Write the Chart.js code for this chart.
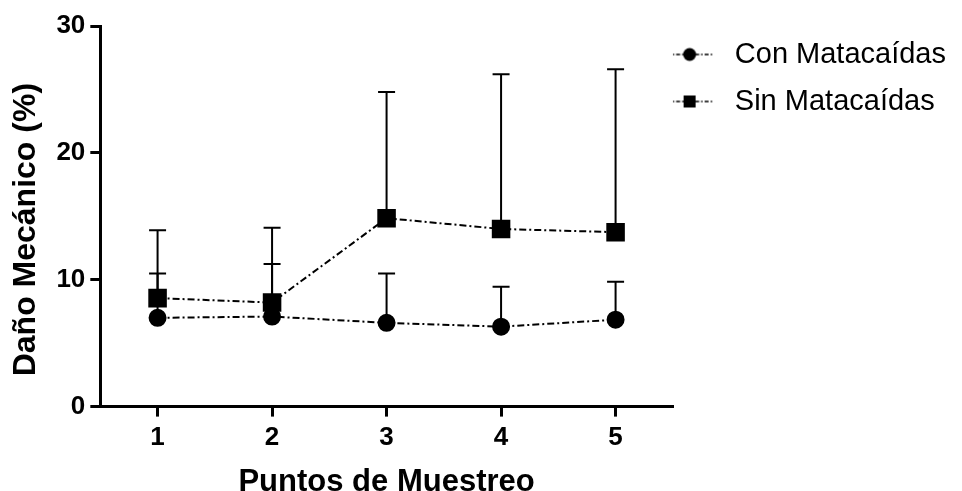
<!DOCTYPE html>
<html>
<head>
<meta charset="utf-8">
<script src="https://cdn.jsdelivr.net/npm/chart.js@4"></script>
<style>
  html, body { margin: 0; padding: 0; background: #fff; }
  #contenedor { width: 962px; height: 491px; }
</style>
</head>
<body>
<div id="contenedor"><canvas id="myChart"></canvas></div>
<script>
// datos
const puntos = ['1', '2', '3', '4', '5'];
const conMedia = [7.0, 7.1, 6.6, 6.3, 6.85];
const conError = [3.5, 4.15, 3.9, 3.15, 3.0];
const sinMedia = [8.55, 8.2, 14.85, 14.0, 13.75];
const sinError = [5.35, 5.9, 9.95, 12.2, 12.85];
const yTicks = [0, 10, 20, 30];

const fuente = "'Liberation Sans', Arial, sans-serif";
const guion = [7, 3, 2, 3];

// simbolo de la leyenda: linea punteada con el marcador en el medio
function simboloLeyenda(tipo){
    const c = document.createElement('canvas');
    c.width = 78;
    c.height = 16;
    const ctx = c.getContext('2d');
    ctx.strokeStyle = '#000';
    ctx.lineWidth = 1.5;
    ctx.setLineDash([4, 2, 1.5, 2]);
    ctx.beginPath();
    ctx.moveTo(0, 8);
    ctx.lineTo(46, 8);
    ctx.stroke();
    ctx.fillStyle = '#000';
    if (tipo === 'circle') {
        ctx.beginPath();
        ctx.arc(23, 8, 6.5, 0, Math.PI * 2);
        ctx.fill();
    } else {
        ctx.fillRect(17, 2, 12, 12);
    }
    return c;
}

// barras de error (solo hacia arriba)
const barrasError = {
    id: 'barrasError',
    beforeDatasetsDraw(chart){
        const ctx = chart.ctx;
        const x = chart.scales.x;
        const y = chart.scales.y;
        ctx.save();
        ctx.strokeStyle = '#000';
        ctx.lineWidth = 2;
        chart.data.datasets.forEach((ds) => {
            ds.data.forEach((v, i) => {
                const px = x.getPixelForValue(i);
                const py = y.getPixelForValue(v);
                const pt = y.getPixelForValue(v + ds.error[i]);
                ctx.beginPath();
                ctx.moveTo(px, py);
                ctx.lineTo(px, pt);
                ctx.moveTo(px - 8.5, pt);
                ctx.lineTo(px + 8.5, pt);
                ctx.stroke();
            });
        });
        ctx.restore();
    }
};

new Chart('myChart', {
    type: 'line',
    data: {
        labels: puntos,
        datasets: [{
            label: 'Con Matacaídas',
            data: conMedia,
            error: conError,
            borderColor: '#000',
            backgroundColor: '#000',
            borderWidth: 2,
            borderDash: guion,
            pointStyle: 'circle',
            pointRadius: 8,
            pointHoverRadius: 8,
            tension: 0
        }, {
            label: 'Sin Matacaídas',
            data: sinMedia,
            error: sinError,
            borderColor: '#000',
            backgroundColor: '#000',
            borderWidth: 2,
            borderDash: guion,
            pointStyle: 'rect',
            pointRadius: 11.7,
            pointHoverRadius: 11.7,
            tension: 0
        }]
    },
    options: {
        responsive: true,
        maintainAspectRatio: false,
        animation: false,
        layout: { padding: { top: 22, right: 6, left: 7, bottom: 0 } },
        scales: {
            x: {
                type: 'category',
                offset: true,
                grid: { drawOnChartArea: false, color: '#000', lineWidth: 3, tickLength: 10 },
                border: { color: '#000', width: 3 },
                ticks: { color: '#000', font: { family: fuente, size: 26, weight: 'bold' }, padding: 6 },
                title: { display: true, text: 'Puntos de Muestreo', color: '#000',
                    font: { family: fuente, size: 31, weight: 'bold' }, padding: { top: 4, bottom: -10 } }
            },
            y: {
                min: 0,
                max: 30,
                afterBuildTicks: (axis) => { axis.ticks = yTicks.map(v => ({ value: v })); },
                // un poco mas de aire arriba para que el 30 quede como en el original
                afterFit: (axis) => { axis.paddingTop = 26; },
                grid: { drawOnChartArea: false, color: '#000', lineWidth: 3, tickLength: 10 },
                border: { color: '#000', width: 3 },
                ticks: { color: '#000', font: { family: fuente, size: 26, weight: 'bold' }, padding: 5 },
                // los espacios al final bajan un poco el titulo, como en el original
                title: { display: true, text: 'Daño Mecánico (%)   ', color: '#000',
                    font: { family: fuente, size: 32, weight: 'bold' }, padding: { top: 0, bottom: 6 } }
            }
        },
        plugins: {
            tooltip: { enabled: false },
            legend: {
                position: 'right',
                align: 'start',
                maxWidth: 290,
                labels: {
                    color: '#000',
                    font: { family: fuente, size: 29 },
                    usePointStyle: true,
                    pointStyleWidth: 29.5,
                    padding: 18,
                    generateLabels(chart){
                        const items = Chart.defaults.plugins.legend.labels.generateLabels(chart);
                        items.forEach((it, i) => {
                            it.pointStyle = simboloLeyenda(chart.data.datasets[i].pointStyle);
                        });
                        return items;
                    }
                }
            }
        }
    },
    plugins: [barrasError]
});
</script>
</body>
</html>
